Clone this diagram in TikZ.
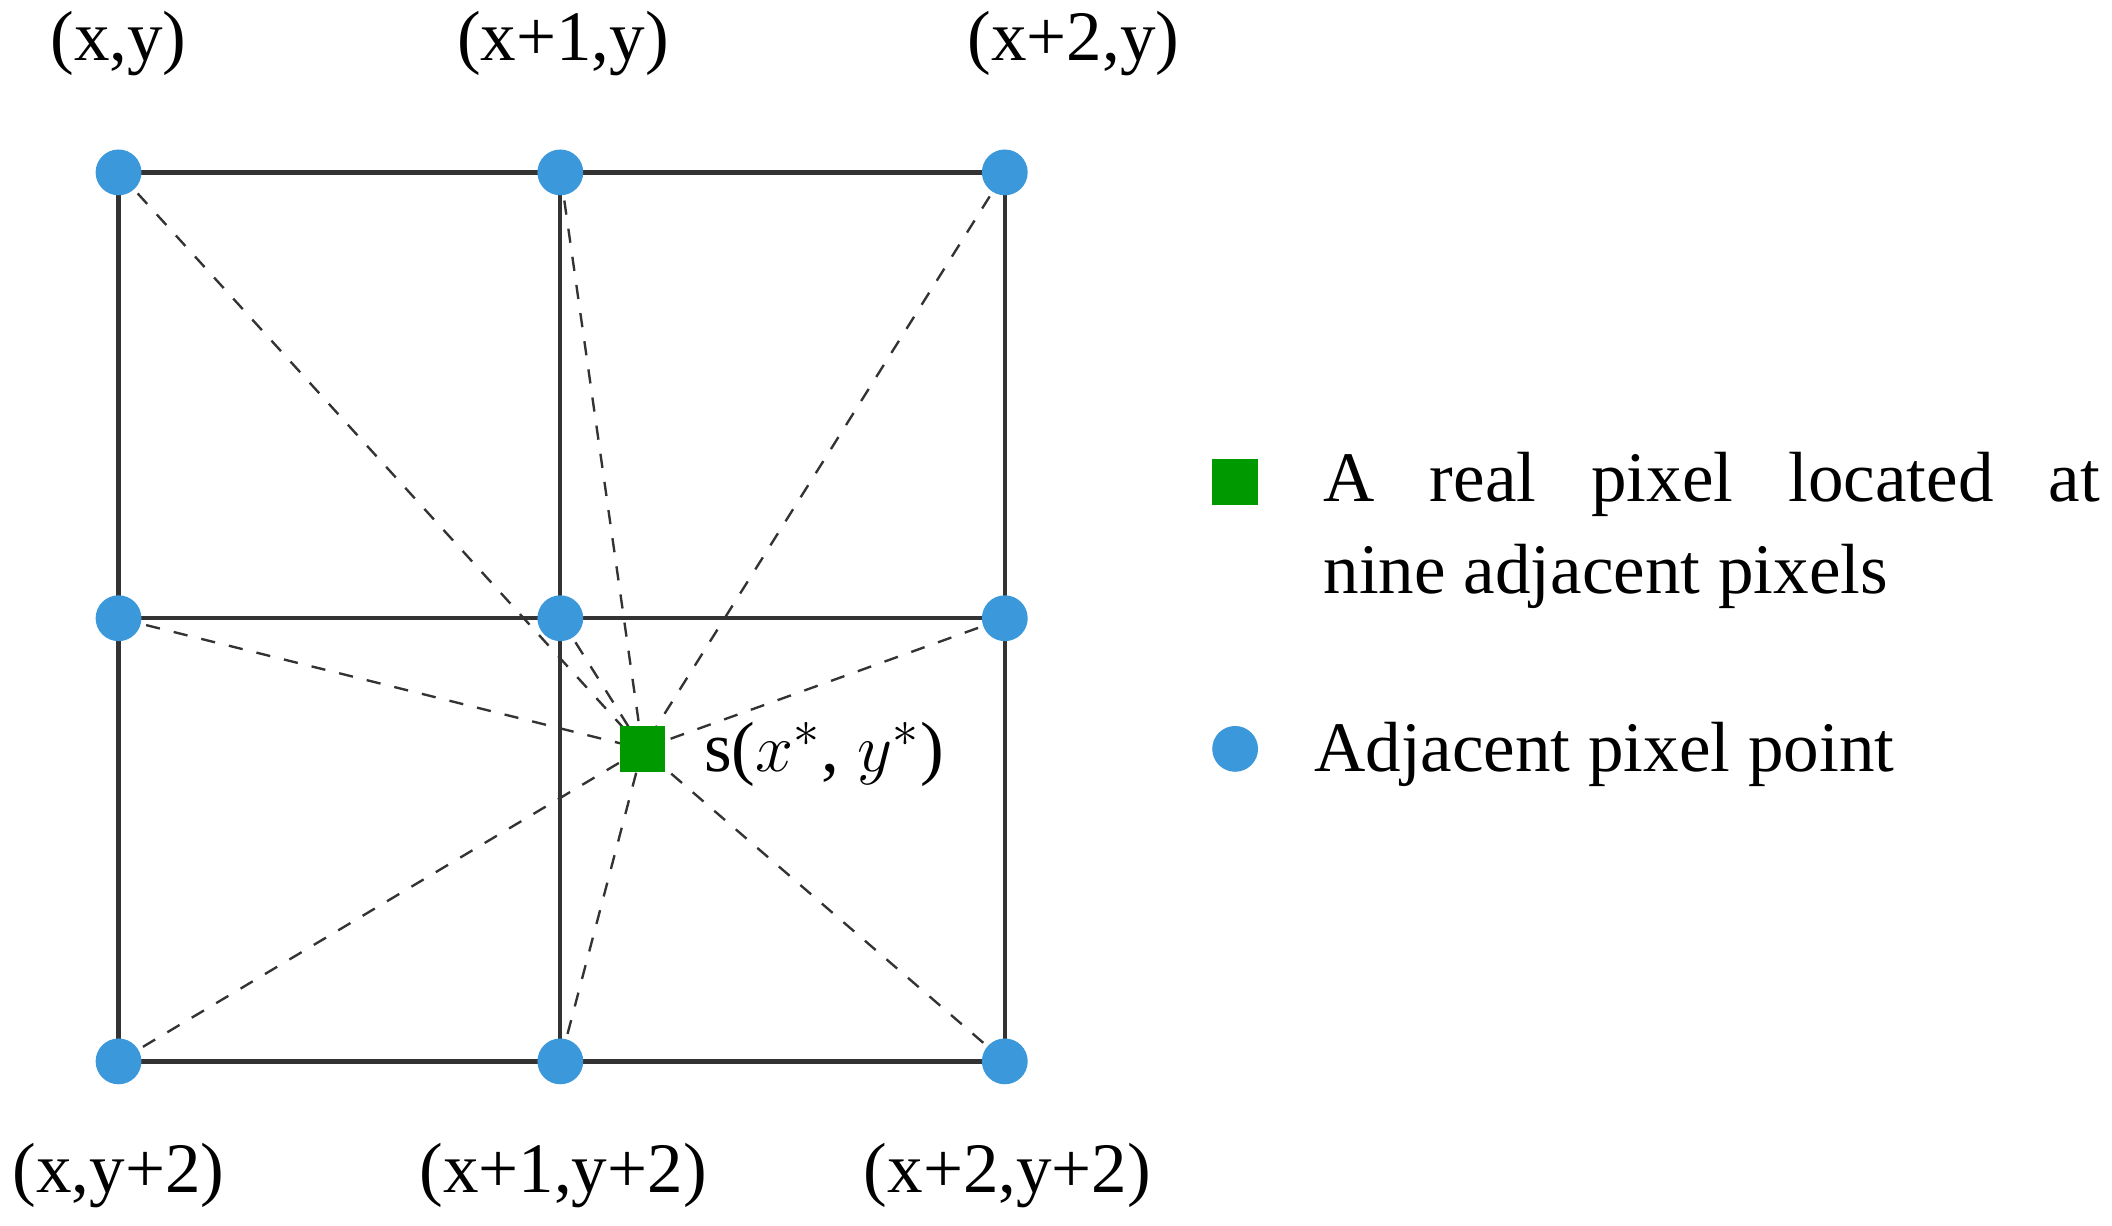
\documentclass[tikz,border=0pt]{standalone}
\usepackage{fontspec}
\setmainfont{Liberation Serif}
\begin{document}
\begin{tikzpicture}[x=0.01cm,y=-0.01cm,
  dot/.style={circle,fill=cyan!70!blue!80,draw=none,minimum size=0.34cm,inner sep=0},
  sq/.style={rectangle,fill=green!60!black,draw=none,minimum size=0.34cm,inner sep=0},
  gridln/.style={line width=0.9pt,black!80},
  dashln/.style={dashed,line width=0.5pt,black!80},
  lbl/.style={font=\fontsize{15}{18}\selectfont,inner sep=0}]
\useasboundingbox (0,0) rectangle (1568,910);
\coordinate (a1) at (88,128); \coordinate (a2) at (416,128); \coordinate (a3) at (746,128);
\coordinate (b1) at (88,459); \coordinate (b2) at (416,459); \coordinate (b3) at (746,459);
\coordinate (c1) at (88,788); \coordinate (c2) at (416,788); \coordinate (c3) at (746,788);
\coordinate (s) at (477,556);
\draw[gridln] (a1)--(a3) (b1)--(b3) (c1)--(c3) (a1)--(c1) (a2)--(c2) (a3)--(c3);
\foreach \n in {a1,a2,a3,b1,b2,b3,c1,c2,c3} \draw[dashln] (\n)--(s);
\foreach \n in {a1,a2,a3,b1,b2,b3,c1,c2,c3} \node[dot] (d\n) at (\n) {};
\node[sq] (sq) at (s) {};
\node[lbl,anchor=west] (sl) at (522,560) {s($x^{*}$, $y^{*}$)};
\node[lbl] (t1) at (88,32) {(x,y)};
\node[lbl] (t2) at (418,32) {(x+1,y)};
\node[lbl] (t3) at (797,32) {(x+2,y)};
\node[lbl] (u1) at (88,873) {(x,y+2)};
\node[lbl] (u2) at (418,873) {(x+1,y+2)};
\node[lbl] (u3) at (748,873) {(x+2,y+2)};
\node[sq] (lg) at (917,358) {};
\node[lbl,anchor=west] (lt1) at (982,360) {\makebox[5.76cm][s]{A real pixel located at}};
\node[lbl,anchor=west] (lt2) at (982,428) {nine adjacent pixels};
\node[dot] (lb) at (917,556) {};
\node[lbl,anchor=west] (lt3) at (975,560) {Adjacent pixel point};
\end{tikzpicture}
\end{document}
